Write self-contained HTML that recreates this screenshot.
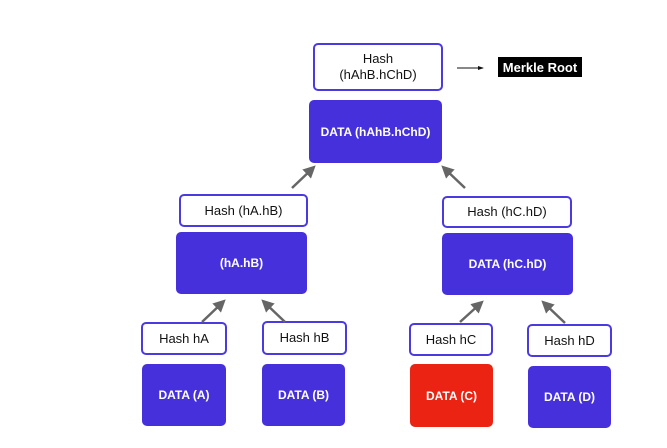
<!DOCTYPE html>
<html><head><style>
body{margin:0;width:667px;height:448px;background:#fff;position:relative;overflow:hidden;font-family:"Liberation Sans",sans-serif}
.b{position:absolute;box-sizing:border-box;display:flex;align-items:center;justify-content:center;text-align:center;border-radius:5px}
.h{border:2.5px solid #4b3ae0;background:#fff;color:#111;font-size:13px;line-height:16px}
.d{background:#4530dc;color:#fff;font-size:12px;font-weight:bold;border-radius:5px}
.r{background:#ea2312}
</style></head><body>
<div class="b h" style="left:313px;top:43px;width:130px;height:48px">Hash<br>(hAhB.hChD)</div>
<div class="b" style="left:498px;top:57px;width:84px;height:20px;background:#000;color:#fff;font-size:13px;font-weight:bold;border-radius:0">Merkle Root</div>
<div class="b d" style="left:309px;top:100px;width:133px;height:63px">DATA (hAhB.hChD)</div>
<div class="b h" style="left:179px;top:194px;width:129px;height:33px">Hash (hA.hB)</div>
<div class="b h" style="left:442px;top:196px;width:130px;height:32px">Hash (hC.hD)</div>
<div class="b d" style="left:176px;top:232px;width:131px;height:62px">(hA.hB)</div>
<div class="b d" style="left:442px;top:233px;width:131px;height:62px">DATA (hC.hD)</div>
<div class="b h" style="left:141px;top:322px;width:86px;height:33px">Hash hA</div>
<div class="b h" style="left:262px;top:321px;width:85px;height:34px">Hash hB</div>
<div class="b h" style="left:409px;top:323px;width:84px;height:33px">Hash hC</div>
<div class="b h" style="left:527px;top:324px;width:85px;height:33px">Hash hD</div>
<div class="b d" style="left:142px;top:364px;width:84px;height:62px">DATA (A)</div>
<div class="b d" style="left:262px;top:364px;width:83px;height:62px">DATA (B)</div>
<div class="b d r" style="left:410px;top:364px;width:83px;height:63px">DATA (C)</div>
<div class="b d" style="left:528px;top:366px;width:83px;height:62px">DATA (D)</div>
<svg width="667" height="448" style="position:absolute;left:0;top:0">
<defs><marker id="a" markerWidth="5" markerHeight="5" refX="3.5" refY="2.5" orient="auto"><path d="M0,0L5,2.5L0,5z" fill="#666"/></marker>
<marker id="k" markerWidth="6" markerHeight="6" refX="5" refY="3" orient="auto"><path d="M0,1L6,3L0,5z" fill="#111"/></marker></defs>
<g stroke="#666" stroke-width="2.5" marker-end="url(#a)">
<line x1="292" y1="188" x2="313" y2="168"/>
<line x1="465" y1="188" x2="444" y2="168"/>
<line x1="202" y1="322" x2="223" y2="302"/>
<line x1="285" y1="322" x2="264" y2="302"/>
<line x1="460" y1="322" x2="481" y2="303"/>
<line x1="565" y1="323" x2="544" y2="303"/>
</g>
<line x1="457" y1="68" x2="483" y2="68" stroke="#111" stroke-width="1" marker-end="url(#k)"/>
</svg>
</body></html>
